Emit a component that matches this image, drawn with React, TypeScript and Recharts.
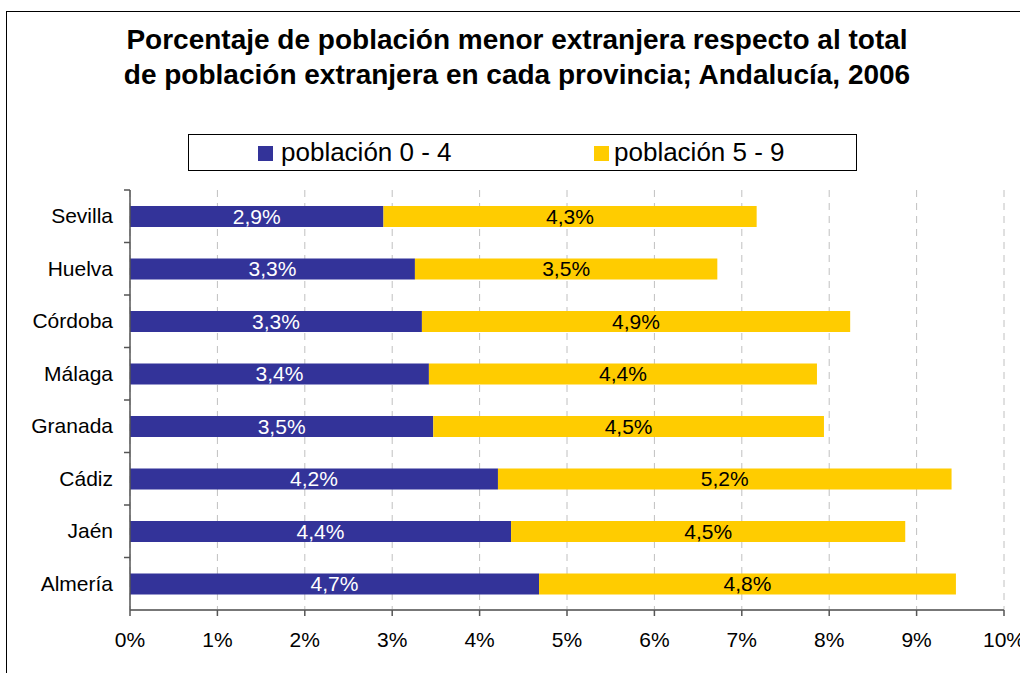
import React from 'react';
import { BarChart, Bar, XAxis, YAxis, CartesianGrid, LabelList } from 'recharts';

const provincias = ['Sevilla', 'Huelva', 'Córdoba', 'Málaga', 'Granada', 'Cádiz', 'Jaén', 'Almería'];
const poblacion04 = [2.9, 3.26, 3.34, 3.42, 3.47, 4.21, 4.36, 4.68];
const poblacion59 = [4.27, 3.46, 4.9, 4.44, 4.47, 5.19, 4.51, 4.77];
const xTicks = [0, 1, 2, 3, 4, 5, 6, 7, 8, 9, 10];

const data = provincias.map((name, i) => ({
  name,
  p04: poblacion04[i],
  p59: poblacion59[i],
}));

const FONT = '"Liberation Sans", Arial, sans-serif';
const BLUE = '#333399';
const YELLOW = '#FFCC00';

const fmt = (v: any) => `${Number(v).toFixed(1).replace('.', ',')}%`;

// category label plus a small tick on the band boundary (Excel style)
const CategoryTick = (props: any) => {
  const { x, y, payload } = props;
  const half = 52.5 / 2;
  return (
    <g>
      <line x1={x} x2={x + 6} y1={y - half} y2={y - half} stroke="#555" strokeWidth={1.5} />
      <text x={x - 11} y={y} dy={7} textAnchor="end" fontSize={21} fontFamily={FONT} fill="#000">
        {payload.value}
      </text>
    </g>
  );
};

export default function App() {
  return (
    <div style={{ position: 'fixed', left: 0, top: 0, width: 1020, height: 673, overflow: 'hidden', background: '#fff' }}>
      <div
        style={{
          position: 'absolute',
          left: 6,
          top: 11,
          width: 1100,
          height: 700,
          border: '1px solid #000',
        }}
      />
      <div
        style={{
          position: 'absolute',
          left: 0,
          top: 22,
          width: 1034,
          textAlign: 'center',
          fontFamily: FONT,
          fontWeight: 'bold',
          fontSize: 28,
          lineHeight: '35px',
        }}
      >
        Porcentaje de población menor extranjera respecto al total
        <br />
        de población extranjera en cada provincia; Andalucía, 2006
      </div>
      <div
        style={{
          position: 'absolute',
          left: 188,
          top: 134,
          width: 669,
          height: 37,
          border: '1px solid #000',
          fontFamily: FONT,
          fontSize: 26,
          boxSizing: 'border-box',
        }}
      >
        <span style={{ position: 'absolute', left: 69, top: 11, width: 15, height: 15, background: BLUE }} />
        <span style={{ position: 'absolute', left: 92, top: 2, lineHeight: '30px' }}>población 0 - 4</span>
        <span style={{ position: 'absolute', left: 405, top: 11, width: 15, height: 15, background: YELLOW }} />
        <span style={{ position: 'absolute', left: 425, top: 2, lineHeight: '30px' }}>población 5 - 9</span>
      </div>
      <div style={{ position: 'absolute', left: 0, top: 0 }}>
        <BarChart
          width={1020}
          height={673}
          data={data}
          layout="vertical"
          margin={{ top: 190, right: 16, left: 0, bottom: 33 }}
        >
          <CartesianGrid horizontal={false} vertical={true} stroke="#c0c0c0" strokeDasharray="7 6" />
          <XAxis
            type="number"
            domain={[0, 10]}
            ticks={xTicks}
            interval={0}
            tickFormatter={(v) => `${v}%`}
            tick={{ fontSize: 21, fontFamily: FONT, fill: '#000' }}
            axisLine={{ stroke: '#777', strokeWidth: 2 }}
            tickLine={{ stroke: '#555', strokeWidth: 1.5 }}
            tickSize={6}
            tickMargin={16}
            height={30}
          />
          <YAxis
            type="category"
            dataKey="name"
            width={130}
            axisLine={{ stroke: '#555', strokeWidth: 1.5 }}
            tickLine={false}
            tick={<CategoryTick />}
            tickMargin={0}
          />
          <Bar dataKey="p04" stackId="a" fill={BLUE} barSize={21} isAnimationActive={false}>
            <LabelList dataKey="p04" position="center" formatter={fmt} fill="#fff" fontSize={21} fontFamily={FONT} />
          </Bar>
          <Bar dataKey="p59" stackId="a" fill={YELLOW} barSize={21} isAnimationActive={false}>
            <LabelList dataKey="p59" position="center" formatter={fmt} fill="#000" fontSize={21} fontFamily={FONT} />
          </Bar>
        </BarChart>
      </div>
    </div>
  );
}
